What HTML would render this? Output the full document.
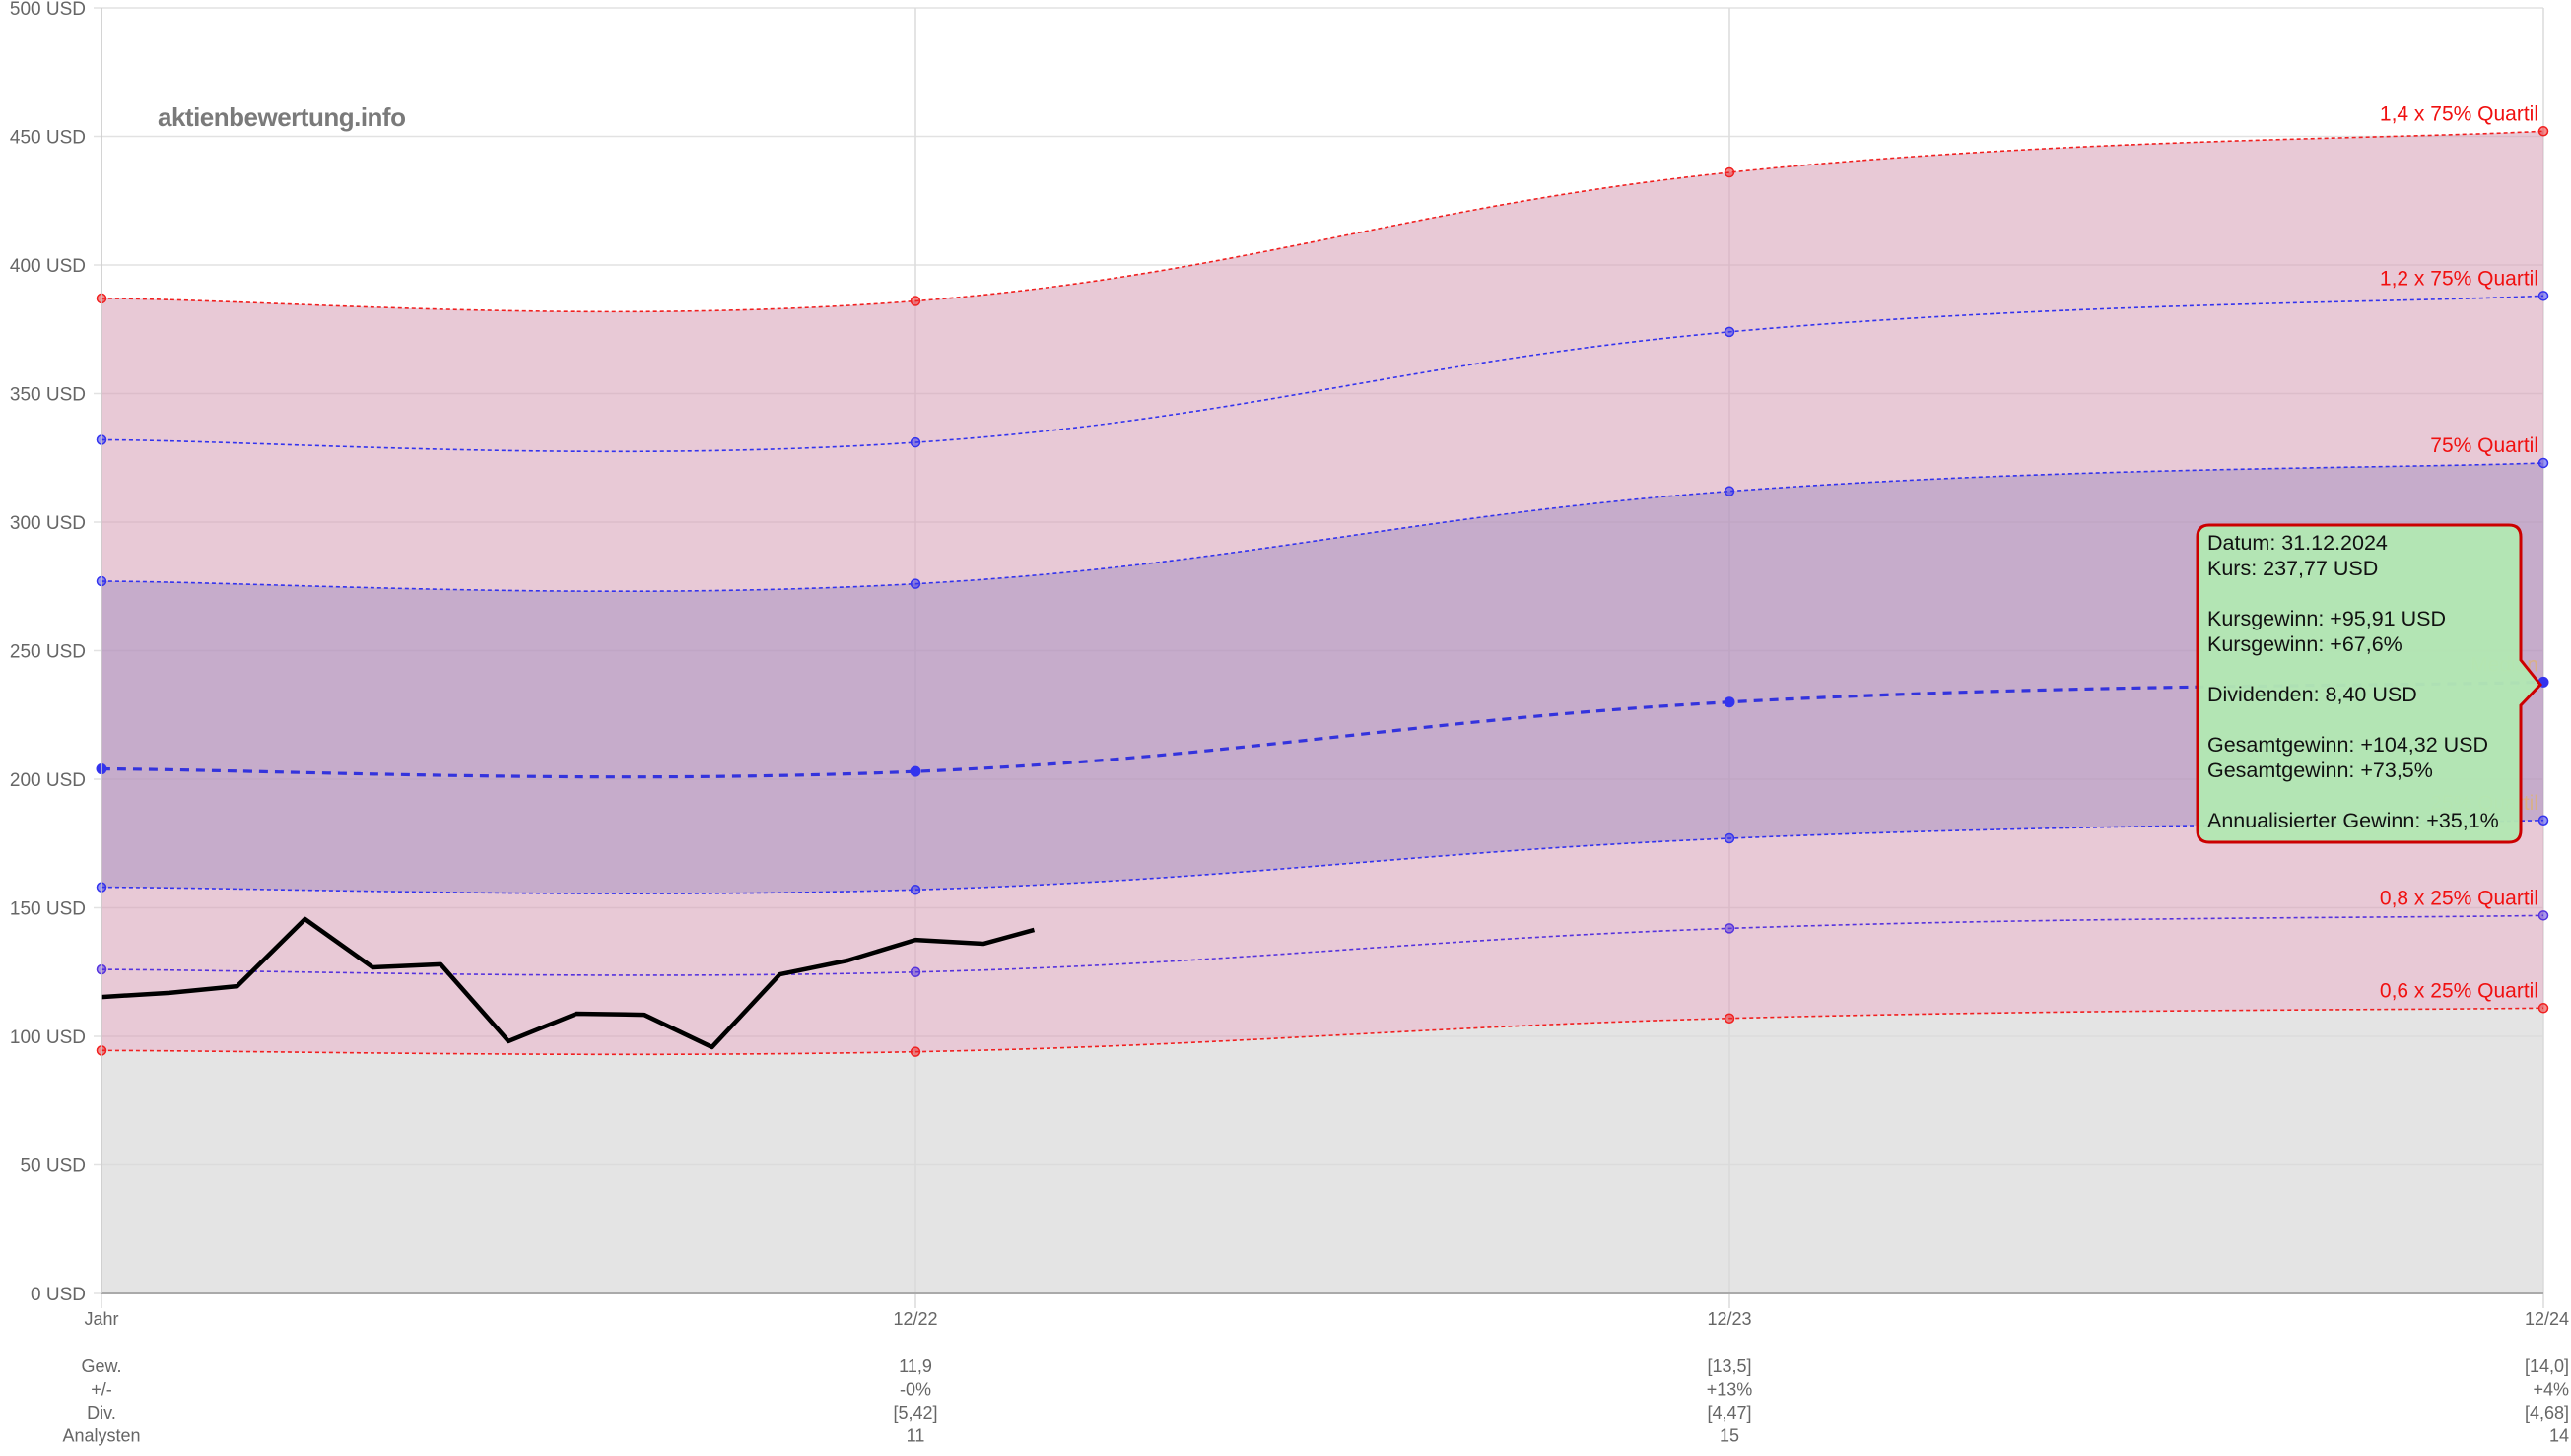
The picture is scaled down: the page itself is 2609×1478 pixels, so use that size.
<!DOCTYPE html>
<html><head><meta charset="utf-8"><style>
html,body{margin:0;padding:0;background:#fff;}
svg{display:block;font-family:"Liberation Sans",sans-serif;}
</style></head><body>
<svg id="chart" width="2609" height="1478" viewBox="0 0 2609 1478" xmlns="http://www.w3.org/2000/svg">
<g id="grid"></g>
<g id="areas"></g>
<g id="lines"></g>
<g id="axes"></g>
<text x="160" y="128" font-size="26" font-weight="bold" fill="#7a7a7a" letter-spacing="-0.5">aktienbewertung.info</text>
<g id="labels"></g>
<g id="tooltip">
<path d="M2242,533 H2546 Q2558,533 2558,545 V670 L2578,695 L2558,716 V843 Q2558,855 2546,855 H2242 Q2230,855 2230,843 V545 Q2230,533 2242,533 Z" fill="#b3e6b3" fill-opacity="0.97" stroke="#cc0000" stroke-width="3"/>
<g font-size="21.5" fill="#111">
<text x="2240" y="558">Datum: 31.12.2024</text>
<text x="2240" y="584">Kurs: 237,77 USD</text>
<text x="2240" y="635">Kursgewinn: +95,91 USD</text>
<text x="2240" y="661">Kursgewinn: +67,6%</text>
<text x="2240" y="712">Dividenden: 8,40 USD</text>
<text x="2240" y="763">Gesamtgewinn: +104,32 USD</text>
<text x="2240" y="789">Gesamtgewinn: +73,5%</text>
<text x="2240" y="840">Annualisierter Gewinn: +35,1%</text>
</g>
</g>
</svg>
<script>
const categories = ["Jahr","12/22","12/23","12/24"];
const q14 = [387, 386, 436, 452];
const q12 = [332, 331, 374, 388];
const q75 = [277, 276, 312, 323];
const median = [204, 203, 230, 237.77];
const q25 = [158, 157, 177, 184];
const q08 = [126, 125, 142, 147];
const q06 = [94.5, 94, 107, 111];
const priceMonths = [0,1,2,3,4,5,6,7,8,9,10,11,12,13,13.75];
const priceValues = [115.3,116.9,119.5,145.6,126.8,128,98.1,108.8,108.4,95.8,124.1,129.5,137.5,136,141.4];
const yTicks = [0,50,100,150,200,250,300,350,400,450,500];
const rowTitles = ["Gew.","+/-","Div.","Analysten"];
const rowValues = [["","11,9","[13,5]","[14,0]"],["","-0%","+13%","+4%"],["","[5,42]","[4,47]","[4,68]"],["","11","15","14"]];

const NS="http://www.w3.org/2000/svg";
const X0=103,X1=2581,Y0=1313,Y1=8;
const xi=i=>X0+(X1-X0)*i/(categories.length-1);
const xm=m=>X0+(X1-X0)*(m/12)/(categories.length-1);
const y=v=>Y0-(Y0-Y1)*v/500;
function el(tag,attrs,parent){const e=document.createElementNS(NS,tag);for(const k in attrs)e.setAttribute(k,attrs[k]);parent.appendChild(e);return e;}
function smooth(pts){let d="M"+pts[0][0]+","+pts[0][1];const t=0.2;
for(let i=0;i<pts.length-1;i++){const p0=pts[i-1]||pts[i],p1=pts[i],p2=pts[i+1],p3=pts[i+2]||p2;
const c1=[p1[0]+(p2[0]-p0[0])*t,p1[1]+(p2[1]-p0[1])*t],c2=[p2[0]-(p3[0]-p1[0])*t,p2[1]-(p3[1]-p1[1])*t];
d+=" C"+c1[0]+","+c1[1]+" "+c2[0]+","+c2[1]+" "+p2[0]+","+p2[1];}return d;}
function rev(pts){let r=pts.slice().reverse();let d=smooth(r);return d.replace(/^M/," L");}
const pts=a=>a.map((v,i)=>[xi(i),y(v)]);

const grid=document.getElementById('grid');
yTicks.forEach(v=>{const l=el('line',{x1:X0-8,x2:X1,y1:y(v),y2:y(v),stroke:'#e2e2e2','stroke-width':1.5},grid);

const t=el('text',{x:X0-16,y:y(v)+7,'text-anchor':'end','font-size':19,fill:'#666'},grid);t.textContent=v+" USD";
});
categories.forEach((c,i)=>{const l=el('line',{x1:xi(i),x2:xi(i),y1:Y1,y2:Y0+15,stroke:'#dcdcdc','stroke-width':1.5},grid);
});

const areas=document.getElementById('areas');
let a=el('path',{d:smooth(pts(q06))+" L"+X1+","+Y0+" L"+X0+","+Y0+" Z",fill:'#d9d9d9','fill-opacity':0.7},areas);

a=el('path',{d:smooth(pts(q14))+rev(pts(q06))+" Z",fill:'#d9a5bb','fill-opacity':0.6},areas);

a=el('path',{d:smooth(pts(q75))+rev(pts(q25))+" Z",fill:'#a48fc0','fill-opacity':0.5},areas);


const lines=document.getElementById('lines');
const series=[[q14,'#f02020','q14'],[q12,'#3333ee','q12'],[q75,'#3333ee','q75'],[q25,'#3333ee','q25'],[q08,'#5533dd','q08'],[q06,'#f02020','q06']];
series.forEach(([arr,col,n])=>{const p=el('path',{d:smooth(pts(arr)),fill:'none',stroke:col,'stroke-width':1.6,'stroke-dasharray':'4 3'},lines);

arr.forEach((v,i)=>{const c=el('circle',{cx:xi(i),cy:y(v),r:4.5,fill:col,'fill-opacity':0.5,stroke:col,'stroke-width':1.5},lines);
});});
let mp=el('path',{d:smooth(pts(median)),fill:'none',stroke:'#3333dd','stroke-width':3.2,'stroke-dasharray':'9 7'},lines);

median.forEach((v,i)=>{const c=el('circle',{cx:xi(i),cy:y(v),r:5.5,fill:'#3333ee'},lines);
});
const pp=el('polyline',{points:priceMonths.map((m,i)=>xm(m)+","+y(priceValues[i])).join(" "),fill:'none',stroke:'#000','stroke-width':4.5,'stroke-linejoin':'round'},lines);


const axes=document.getElementById('axes');
let ax=el('line',{x1:X0,x2:X1,y1:Y0,y2:Y0,stroke:'#aaa','stroke-width':2},axes);

ax=el('line',{x1:X0,x2:X0,y1:Y1,y2:Y0,stroke:'#ccc','stroke-width':1.5},axes);

categories.forEach((c,i)=>{const last=i===categories.length-1;const t=el('text',{x:last?2607:xi(i),y:1345,'text-anchor':last?'end':'middle','font-size':18,fill:'#666'},axes);t.textContent=c;
});
rowTitles.forEach((r,j)=>{const yy=1393+j*23.5;
const t=el('text',{x:X0,y:yy,'text-anchor':'middle','font-size':18,fill:'#666'},axes);t.textContent=r;

rowValues[j].forEach((v,i)=>{if(!v)return;const last=i===categories.length-1;
const s=el('text',{x:last?2607:xi(i),y:yy,'text-anchor':last?'end':'middle','font-size':18,fill:'#666'},axes);s.textContent=v;
});});

const labels=document.getElementById('labels');
const lbl=[[q14,"1,4 x 75% Quartil",'#f01010'],[q12,"1,2 x 75% Quartil",'#f01010'],[q75,"75% Quartil",'#f01010'],[median,"Median",'#d9b088'],[q25,"25% Quartil",'#d9b088'],[q08,"0,8 x 25% Quartil",'#f01010'],[q06,"0,6 x 25% Quartil",'#f01010']];
lbl.forEach(([arr,txt,col])=>{const t=el('text',{x:2576,y:y(arr[arr.length-1])-11,'text-anchor':'end','font-size':21,fill:col},labels);t.textContent=txt;
});
document.getElementById('chart').appendChild(document.getElementById('tooltip'));
</script>
</body></html>
